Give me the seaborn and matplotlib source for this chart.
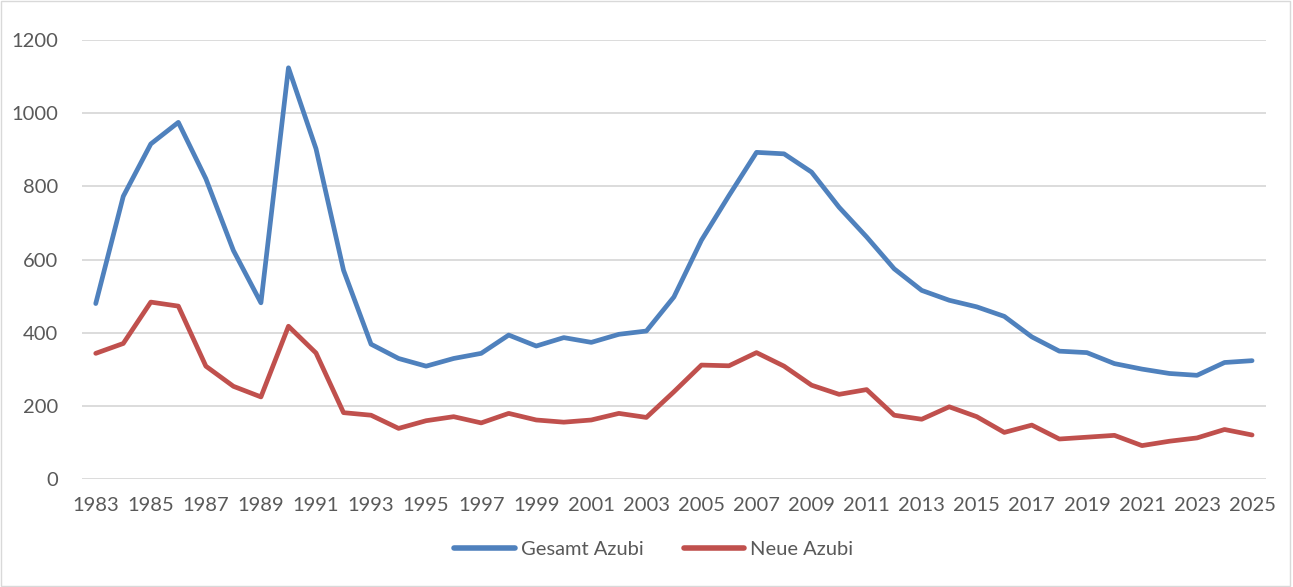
import numpy as np
import pandas as pd
import seaborn as sns
from matplotlib import pyplot as plt
from matplotlib.patches import Rectangle

years = list(range(1983, 2026))
gesamt = [480, 773, 916, 975, 821, 625, 482, 1124, 903, 571,
          369, 330, 309, 330, 344, 394, 364, 387, 374, 396,
          405, 498, 653, 775, 893, 889, 839, 743, 662, 575,
          516, 489, 471, 445, 389, 350, 346, 316, 301, 289,
          284, 319, 324]
neue = [344, 371, 484, 473, 309, 254, 225, 418, 345, 182,
        175, 139, 160, 171, 154, 180, 162, 156, 162, 180,
        169, 239, 312, 310, 346, 309, 257, 232, 245, 175,
        164, 198, 171, 128, 148, 110, 115, 120, 92, 104,
        113, 136, 121]
series_names = ["Gesamt Azubi", "Neue Azubi"]
colors = ["#4F81BD", "#C0504D"]

df = pd.concat([
    pd.DataFrame({"Jahr": years, "Anzahl": gesamt, "Serie": series_names[0]}),
    pd.DataFrame({"Jahr": years, "Anzahl": neue, "Serie": series_names[1]}),
])

sns.set_style("white")
plt.rcParams['font.family'] = ['Lato', 'DejaVu Sans']

fig = plt.figure(figsize=(12.93, 5.87), dpi=100)
ax = fig.add_axes([0.0634, 0.1835, 0.9156, 0.7484])

sns.lineplot(data=df, x="Jahr", y="Anzahl", hue="Serie", palette=colors,
             linewidth=3.4, ax=ax, legend=True)

ax.set_xlim(1982.5, 2025.5)
ax.set_ylim(0, 1200)
ax.set_yticks(range(0, 1201, 200))
ax.set_xticks(years[::2])
ax.set_xticklabels([str(y) for y in years[::2]])
ax.yaxis.grid(True, color="#D9D9D9", linewidth=1.3)
ax.set_axisbelow(True)
for s in ax.spines.values():
    s.set_visible(False)
ax.tick_params(axis="both", length=0, labelsize=14.5, colors="#595959")
ax.tick_params(axis="x", pad=13)
ax.tick_params(axis="y", pad=17)
ax.set_xlabel("")
ax.set_ylabel("")

leg = ax.legend(loc="upper center", bbox_to_anchor=(0.483, -0.1), ncol=2,
                frameon=False, fontsize=14.5, handlelength=3.0,
                columnspacing=2.0, handletextpad=0.3)
for t in leg.get_texts():
    t.set_color("#595959")
for h in leg.get_lines():
    h.set_linewidth(4)

fig.patches.append(Rectangle((0.001, 0.001), 0.997, 0.997, transform=fig.transFigure,
                             fill=False, edgecolor="#D9D9D9", linewidth=1))

plt.savefig("out.png", dpi=100)
